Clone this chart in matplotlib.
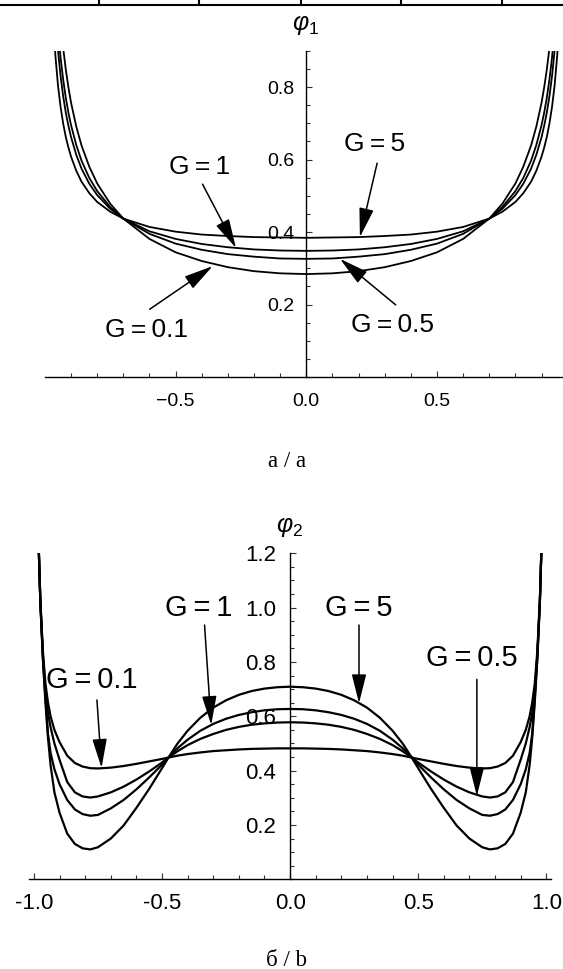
import matplotlib
matplotlib.use("Agg")
import matplotlib.pyplot as plt
from matplotlib.lines import Line2D
from matplotlib.ticker import FixedLocator, MultipleLocator

plt.rcParams['font.family'] = ['Liberation Sans', 'DejaVu Sans']
plt.rcParams['mathtext.fontset'] = 'custom'
plt.rcParams['mathtext.it'] = 'Liberation Sans:italic'
plt.rcParams['mathtext.rm'] = 'Liberation Sans'

# ---------------- data: phi_1 ----------------
x1 = [-0.97, -0.96, -0.95, -0.94, -0.93, -0.92, -0.91, -0.90, -0.88, -0.86,
      -0.83, -0.80, -0.75, -0.70, -0.60, -0.50, -0.40, -0.30, -0.20, -0.10,
      0.00,
      0.10, 0.20, 0.30, 0.40, 0.50, 0.60, 0.70, 0.75, 0.80, 0.83,
      0.86, 0.88, 0.90, 0.91, 0.92, 0.93, 0.94, 0.95, 0.96, 0.97]
phi1_g5 = [1.011, 0.888, 0.805, 0.745, 0.699, 0.662, 0.633, 0.608, 0.569, 0.539,
           0.507, 0.483, 0.456, 0.437, 0.414, 0.401, 0.393, 0.389, 0.386, 0.385,
           0.384,
           0.385, 0.386, 0.389, 0.393, 0.401, 0.414, 0.437, 0.456, 0.483, 0.507,
           0.539, 0.569, 0.608, 0.633, 0.662, 0.699, 0.745, 0.805, 0.888, 1.011]
phi1_g1 = [1.147, 1.001, 0.902, 0.830, 0.774, 0.729, 0.693, 0.662, 0.613, 0.575,
           0.533, 0.502, 0.464, 0.437, 0.402, 0.381, 0.367, 0.358, 0.352, 0.349,
           0.348,
           0.349, 0.352, 0.358, 0.367, 0.381, 0.402, 0.437, 0.464, 0.502, 0.533,
           0.575, 0.613, 0.662, 0.693, 0.729, 0.774, 0.830, 0.902, 1.001, 1.147]
phi1_g05 = [1.230, 1.070, 0.961, 0.881, 0.820, 0.770, 0.729, 0.695, 0.640, 0.597,
            0.549, 0.513, 0.469, 0.437, 0.395, 0.368, 0.351, 0.339, 0.332, 0.327,
            0.326,
            0.327, 0.332, 0.339, 0.351, 0.368, 0.395, 0.437, 0.469, 0.513, 0.549,
            0.597, 0.640, 0.695, 0.729, 0.770, 0.820, 0.881, 0.961, 1.070, 1.230]
phi1_g01 = [1.389, 1.202, 1.074, 0.980, 0.907, 0.848, 0.799, 0.757, 0.691, 0.639,
            0.580, 0.534, 0.478, 0.437, 0.381, 0.344, 0.320, 0.303, 0.292, 0.286,
            0.284,
            0.286, 0.292, 0.303, 0.320, 0.344, 0.381, 0.437, 0.478, 0.534, 0.580,
            0.639, 0.691, 0.757, 0.799, 0.848, 0.907, 0.980, 1.074, 1.202, 1.389]

# ---------------- data: phi_2 ----------------
x2 = [-0.99, -0.985, -0.975, -0.965, -0.955, -0.945, -0.935, -0.92, -0.90, -0.87,
      -0.84, -0.81, -0.78, -0.75, -0.70, -0.65, -0.60, -0.55, -0.50, -0.475,
      -0.44, -0.40, -0.35, -0.30, -0.25, -0.20, -0.15, -0.10, -0.05,
      0.00,
      0.05, 0.10, 0.15, 0.20, 0.25, 0.30, 0.35, 0.40, 0.44,
      0.475, 0.50, 0.55, 0.60, 0.65, 0.70, 0.75, 0.78, 0.81, 0.84,
      0.87, 0.90, 0.92, 0.935, 0.945, 0.955, 0.965, 0.975, 0.985, 0.99]
phi2_g5 = [1.650, 1.340, 1.020, 0.810, 0.650, 0.520, 0.420, 0.320, 0.245, 0.168,
           0.130, 0.114, 0.110, 0.118, 0.150, 0.198, 0.263, 0.333, 0.409, 0.448,
           0.499, 0.547, 0.595, 0.632, 0.659, 0.679, 0.693, 0.702, 0.707,
           0.709,
           0.707, 0.702, 0.693, 0.679, 0.659, 0.632, 0.595, 0.547, 0.499,
           0.448, 0.409, 0.333, 0.263, 0.198, 0.150, 0.118, 0.110, 0.114, 0.130,
           0.168, 0.245, 0.320, 0.420, 0.520, 0.650, 0.810, 1.020, 1.340, 1.650]
phi2_g1 = [1.650, 1.340, 1.020, 0.815, 0.665, 0.535, 0.465, 0.405, 0.350, 0.292,
           0.257, 0.240, 0.234, 0.237, 0.261, 0.292, 0.331, 0.375, 0.422, 0.448,
           0.482, 0.514, 0.547, 0.572, 0.591, 0.605, 0.615, 0.622, 0.626,
           0.627,
           0.626, 0.622, 0.615, 0.605, 0.591, 0.572, 0.547, 0.514, 0.482,
           0.448, 0.422, 0.375, 0.331, 0.292, 0.261, 0.237, 0.234, 0.240, 0.257,
           0.292, 0.350, 0.405, 0.465, 0.535, 0.665, 0.815, 1.020, 1.340, 1.650]
phi2_g05 = [1.650, 1.340, 1.025, 0.825, 0.690, 0.610, 0.560, 0.500, 0.440, 0.358,
            0.320, 0.305, 0.301, 0.305, 0.320, 0.341, 0.367, 0.397, 0.430, 0.448,
            0.471, 0.494, 0.517, 0.535, 0.550, 0.561, 0.569, 0.574, 0.577,
            0.578,
            0.577, 0.574, 0.569, 0.561, 0.550, 0.535, 0.517, 0.494, 0.471,
            0.448, 0.430, 0.397, 0.367, 0.341, 0.320, 0.305, 0.301, 0.305, 0.320,
            0.358, 0.440, 0.500, 0.560, 0.610, 0.690, 0.825, 1.025, 1.340, 1.650]
phi2_g01 = [1.650, 1.340, 1.030, 0.840, 0.720, 0.650, 0.600, 0.550, 0.505, 0.455,
            0.428, 0.415, 0.409, 0.408, 0.411, 0.417, 0.425, 0.434, 0.443, 0.448,
            0.455, 0.461, 0.467, 0.472, 0.475, 0.478, 0.480, 0.481, 0.482,
            0.482,
            0.482, 0.481, 0.480, 0.478, 0.475, 0.472, 0.467, 0.461, 0.455,
            0.448, 0.443, 0.434, 0.425, 0.417, 0.411, 0.408, 0.409, 0.415, 0.428,
            0.455, 0.505, 0.550, 0.600, 0.650, 0.720, 0.840, 1.030, 1.340, 1.650]

W, H = 563, 969
fig = plt.figure(figsize=(W / 100, H / 100), dpi=100)


def px_axes(x_left, x_right, y_top, y_bottom):
    """Axes rectangle given in pixel coordinates (origin top-left)."""
    return fig.add_axes([x_left / W, 1 - y_bottom / H,
                         (x_right - x_left) / W, (y_bottom - y_top) / H])


def style_axes(ax, xmaj, xlabels, ymaj, ymin_step, xmin_ticks, fs, xpad, ypad):
    for s in ('top', 'right'):
        ax.spines[s].set_visible(False)
    ax.spines['left'].set_position(('data', 0))
    ax.spines['bottom'].set_position(('data', 0))
    for s in ('left', 'bottom'):
        ax.spines[s].set_linewidth(1.0)
    ax.xaxis.set_major_locator(FixedLocator(xmaj))
    ax.set_xticklabels(xlabels)
    ax.xaxis.set_minor_locator(FixedLocator(xmin_ticks))
    ax.yaxis.set_major_locator(FixedLocator(ymaj))
    ax.set_yticklabels(['%.1f' % v for v in ymaj])
    ax.yaxis.set_minor_locator(MultipleLocator(ymin_step))
    ax.tick_params(which='both', direction='in', width=0.8, color='#333333')
    ax.tick_params(which='major', length=4.5)
    ax.tick_params(which='minor', length=2.6)
    ax.tick_params(axis='x', which='major', pad=xpad, labelsize=fs)
    ax.tick_params(axis='y', which='major', pad=ypad, labelsize=fs)
    ax.patch.set_visible(False)


def arrow(ax, tail, tip):
    ax.annotate('', xy=tip, xytext=tail,
                arrowprops=dict(arrowstyle='-|>,head_length=1.2,head_width=0.3',
                                mutation_scale=15, lw=1.1, color='black',
                                shrinkA=0, shrinkB=0))


# ---------------- top panel ----------------
ax1 = px_axes(44.9, 567.7, 50.8, 377.0)
ax1.set_xlim(-1.0, 1.0)
ax1.set_ylim(0.0, 0.9)
for ys in (phi1_g5, phi1_g1, phi1_g05, phi1_g01):
    ax1.plot(x1, ys, color='black', lw=1.3, solid_capstyle='butt')
minor1 = [v / 10 for v in range(-9, 10) if v % 5 != 0]
style_axes(ax1, [-0.5, 0.0, 0.5], ['\u22120.5', '0.0', '0.5'],
           [0.2, 0.4, 0.6, 0.8], 0.05, minor1, 14, 11.5, 8.8)

lab_fs1 = 19
ax1.text(-0.407, 0.580, 'G\u2009=\u20091', fontsize=lab_fs1, ha='center', va='center')
arrow(ax1, (-0.397, 0.532), (-0.269, 0.356))
ax1.text(0.260, 0.643, 'G\u2009=\u20095', fontsize=lab_fs1, ha='center', va='center')
arrow(ax1, (0.271, 0.590), (0.205, 0.386))
ax1.text(-0.612, 0.131, 'G\u2009=\u20090.1', fontsize=lab_fs1, ha='center', va='center')
arrow(ax1, (-0.599, 0.187), (-0.358, 0.306))
ax1.text(0.328, 0.143, 'G\u2009=\u20090.5', fontsize=lab_fs1, ha='center', va='center')
arrow(ax1, (0.342, 0.199), (0.129, 0.326))

fig.text(305.5 / W, 1 - 25 / H, r'$\varphi_1$', fontsize=18, ha='center', va='center')
fig.text(287 / W, 1 - 462 / H, 'a / a', fontsize=16.5, family='Liberation Serif',
         ha='center', va='center')

# ---------------- bottom panel ----------------
ax2 = px_axes(28.8, 551.4, 553.3, 879.3)
ax2.set_xlim(-1.02, 1.02)
ax2.set_ylim(0.0, 1.2)
for ys in (phi2_g5, phi2_g1, phi2_g05, phi2_g01):
    ax2.plot(x2, ys, color='black', lw=1.6, solid_capstyle='butt')
minor2 = [v / 10 for v in range(-9, 10) if v % 5 != 0]
style_axes(ax2, [-1.0, -0.5, 0.0, 0.5, 1.0], ['-1.0', '-0.5', '0.0', '0.5', '1.0'],
           [0.2, 0.4, 0.6, 0.8, 1.0, 1.2], 0.05, minor2, 16, 9.9, 9.9)

lab_fs2 = 21
ax2.text(-0.775, 0.733, 'G\u2009=\u20090.1', fontsize=lab_fs2, ha='center', va='center')
arrow(ax2, (-0.754, 0.660), (-0.736, 0.410))
ax2.text(-0.355, 0.997, 'G\u2009=\u20091', fontsize=lab_fs2, ha='center', va='center')
arrow(ax2, (-0.334, 0.936), (-0.308, 0.568))
ax2.text(0.269, 0.997, 'G\u2009=\u20095', fontsize=lab_fs2, ha='center', va='center')
arrow(ax2, (0.269, 0.936), (0.269, 0.648))
ax2.text(0.710, 0.813, 'G\u2009=\u20090.5', fontsize=lab_fs2, ha='center', va='center')
arrow(ax2, (0.729, 0.736), (0.729, 0.306))

fig.text(290 / W, 1 - 527 / H, r'$\varphi_2$', fontsize=18, ha='center', va='center')
fig.text(286 / W, 1 - 960 / H, '\u0431 / b', fontsize=16.5, family='Liberation Serif',
         ha='center', va='center')

# ---------------- table rule along the top edge ----------------
fig.add_artist(Line2D([0, 1], [1 - 5 / H, 1 - 5 / H], transform=fig.transFigure,
                      color='black', lw=1.5))
for xv in (98.7, 199.3, 300.9, 401.0, 501.6):
    fig.add_artist(Line2D([xv / W, xv / W], [1, 1 - 5 / H], transform=fig.transFigure,
                          color='black', lw=1.5))

fig.savefig('out.png', dpi=100)
